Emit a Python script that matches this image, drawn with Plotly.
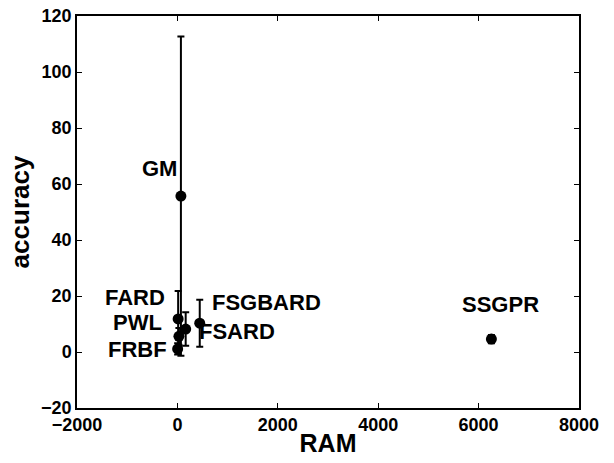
import plotly.graph_objects as go

names = ["GM", "FARD", "PWL", "FRBF", "FSARD", "FSGBARD", "SSGPR"]
ram = [70, 15, 30, 5, 165, 445, 6255]
accuracy = [55.7, 11.8, 5.6, 1.1, 8.2, 10.3, 4.6]
err = [57, 10, 3, 2, 6, 8.4, 1.5]

x_ticks = [-2000, 0, 2000, 4000, 6000, 8000]
y_ticks = [-20, 0, 20, 40, 60, 80, 100, 120]

# label placement (pixel offsets from point)
label_style = {
    "GM": dict(xanchor="center", xshift=-21, yshift=28),
    "FARD": dict(xanchor="right", xshift=-11.5, yshift=21),
    "PWL": dict(xanchor="right", xshift=-15, yshift=13.5),
    "FRBF": dict(xanchor="right", xshift=-8.5, yshift=-1),
    "FSARD": dict(xanchor="left", xshift=11.7, yshift=-2.7),
    "FSGBARD": dict(xanchor="left", xshift=10, yshift=20.7),
    "SSGPR": dict(xanchor="center", xshift=9.5, yshift=34.7),
}

FONT = "Liberation Sans, Arial, Helvetica, sans-serif"

fig = go.Figure()
fig.add_trace(go.Scatter(
    x=ram, y=accuracy, mode="markers",
    marker=dict(color="black", size=11),
    error_y=dict(type="data", array=err, visible=True, color="black",
                 thickness=2, width=3.5),
    showlegend=False,
))

for n, xv, yv in zip(names, ram, accuracy):
    s = label_style[n]
    fig.add_annotation(x=xv, y=yv, text="<b>%s</b>" % n, showarrow=False,
                       yanchor="middle",
                       font=dict(family=FONT, size=22, color="black"), **s)

axis_common = dict(
    showline=True, linecolor="black", linewidth=1.5, mirror="ticks",
    ticks="inside", ticklen=5, tickwidth=1, tickcolor="black",
    showgrid=False, zeroline=False, automargin=False,
    ticklabeloverflow="allow",
    tickfont=dict(family=FONT, size=18, color="black"),
)

fig.update_xaxes(range=[-2000, 8000], tickvals=x_ticks,
                 ticktext=["<b>%s</b>" % ("\u22122000" if v < 0 else str(v)) for v in x_ticks],
                 title=dict(text="<b>RAM</b>", font=dict(family=FONT, size=25, color="black"),
                            standoff=0),
                 ticklabelstandoff=0,
                 **axis_common)
fig.update_yaxes(range=[-20, 120], tickvals=y_ticks,
                 ticktext=["<b>%s</b>" % ("\u221220" if v < 0 else str(v)) for v in y_ticks],
                 title=dict(text="<b>accuracy</b>", font=dict(family=FONT, size=26, color="black"),
                            standoff=4),
                 **axis_common)

fig.update_layout(
    width=614, height=463,
    margin=dict(l=77, r=35, t=16, b=55),
    paper_bgcolor="white", plot_bgcolor="white",
)

fig.write_html("out.html", config={"displayModeBar": False},
               post_script="document.body.style.margin='0';document.body.style.overflow='hidden';")
